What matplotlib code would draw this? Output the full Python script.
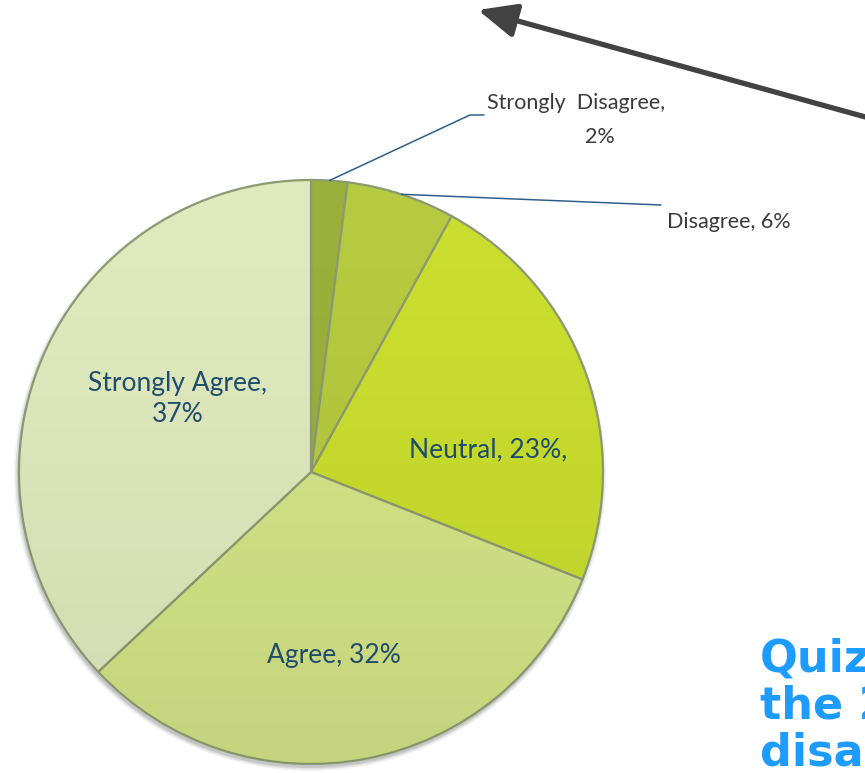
import numpy as np
import matplotlib.pyplot as plt
from matplotlib.patches import Circle

# survey answers, drawn clockwise from 12 o'clock
labels = ["Strongly Disagree", "Disagree", "Neutral", "Agree", "Strongly Agree"]
shares = [2, 6, 23, 32, 37]
colors = ["#9bb03a", "#b5ca3e", "#c9de2e", "#d4e486", "#e0e9bd"]

W, H = 865, 773
CX, CY, R = 311, H - 472, 292

LABEL_FONT = ["Lato", "DejaVu Sans"]
INNER_COLOR = "#1f4d6b"
OUTER_COLOR = "#3a3a3a"
LEADER_COLOR = "#2d5f8c"


def img(x, y):
    # image-style coordinates (y down) to data coordinates
    return x, H - y


fig = plt.figure(figsize=(W / 100, H / 100), dpi=100)
ax = fig.add_axes([0, 0, 1, 1])

# soft drop shadow under the pie
for dr, a in [(4, 0.10), (2.5, 0.18), (1, 0.30)]:
    ax.add_patch(Circle((CX - 1, CY - 3), R + dr, color="#8a8a8a", alpha=a,
                        lw=0, zorder=0))

wedges, _ = ax.pie(shares, colors=colors, startangle=90, counterclock=False,
                   center=(CX, CY), radius=R, frame=True,
                   wedgeprops=dict(edgecolor="#8d9a72", linewidth=1.6))
for w in wedges:
    w.set_zorder(2)
ax.set_xlim(0, W)
ax.set_ylim(0, H)
ax.set_aspect("equal")
ax.axis("off")

# slight darkening toward the bottom of the pie
ramp = np.linspace(0, 1, 256).reshape(-1, 1)
shade = np.zeros((256, 1, 4))
shade[..., 3] = 0.07 * ramp ** 1.5
im = ax.imshow(shade, extent=(CX - R, CX + R, CY - R, CY + R), origin="upper",
               zorder=3, aspect="auto")
im.set_clip_path(Circle((CX, CY), R, transform=ax.transData))


def edge_point(wedge, frac):
    t = np.deg2rad(wedge.theta1 + frac * (wedge.theta2 - wedge.theta1))
    return CX + R * np.cos(t), CY + R * np.sin(t)


def pct(i):
    return f"{shares[i]}%"


# inside labels
ax.text(*img(178, 399), f"{labels[4]},\n{pct(4)}", ha="center", va="center",
        fontsize=19, color=INNER_COLOR, family=LABEL_FONT, linespacing=1.3,
        zorder=5)
ax.text(*img(488, 450), f"{labels[2]}, {pct(2)},", ha="center", va="center",
        fontsize=19, color=INNER_COLOR, family=LABEL_FONT, zorder=5)
ax.text(*img(334, 656), f"{labels[3]}, {pct(3)}", ha="center", va="center",
        fontsize=19, color=INNER_COLOR, family=LABEL_FONT, zorder=5)

# outside labels with leader lines
ax.annotate("", xy=edge_point(wedges[0], 0.5), xytext=img(484, 115),
            arrowprops=dict(arrowstyle="-", color=LEADER_COLOR, lw=1.1,
                            shrinkA=0, shrinkB=0,
                            connectionstyle="angle,angleA=0,angleB=25,rad=0"),
            zorder=6)
ax.text(*img(576, 103), "Strongly  Disagree,", ha="center", va="center",
        fontsize=15.5, color=OUTER_COLOR, family=LABEL_FONT)
ax.text(*img(600, 137), pct(0), ha="center", va="center",
        fontsize=15.5, color=OUTER_COLOR, family=LABEL_FONT)

ax.annotate("", xy=edge_point(wedges[1], 0.5), xytext=img(661, 205),
            arrowprops=dict(arrowstyle="-", color=LEADER_COLOR, lw=1.1,
                            shrinkA=0, shrinkB=0), zorder=6)
ax.text(*img(667, 222), f"{labels[1]}, {pct(1)}", ha="left", va="center",
        fontsize=15.5, color=OUTER_COLOR, family=LABEL_FONT)

# pointer arrow across the top
ax.annotate("", xy=img(478, 10), xytext=img(880, 121),
            arrowprops=dict(arrowstyle="-|>,head_length=0.9,head_width=0.4",
                            color="#424242", lw=3.8, mutation_scale=26,
                            shrinkA=0, shrinkB=0), zorder=7)

# quiz prompt, running off the right edge
ax.text(*img(760, 637), "Quiz:\nthe 2\ndisadvantages", ha="left", va="top",
        fontsize=32, fontweight="bold", color="#1e9bff",
        family="DejaVu Sans", linespacing=1.13, clip_on=False)

fig.savefig("out.png", dpi=100)
